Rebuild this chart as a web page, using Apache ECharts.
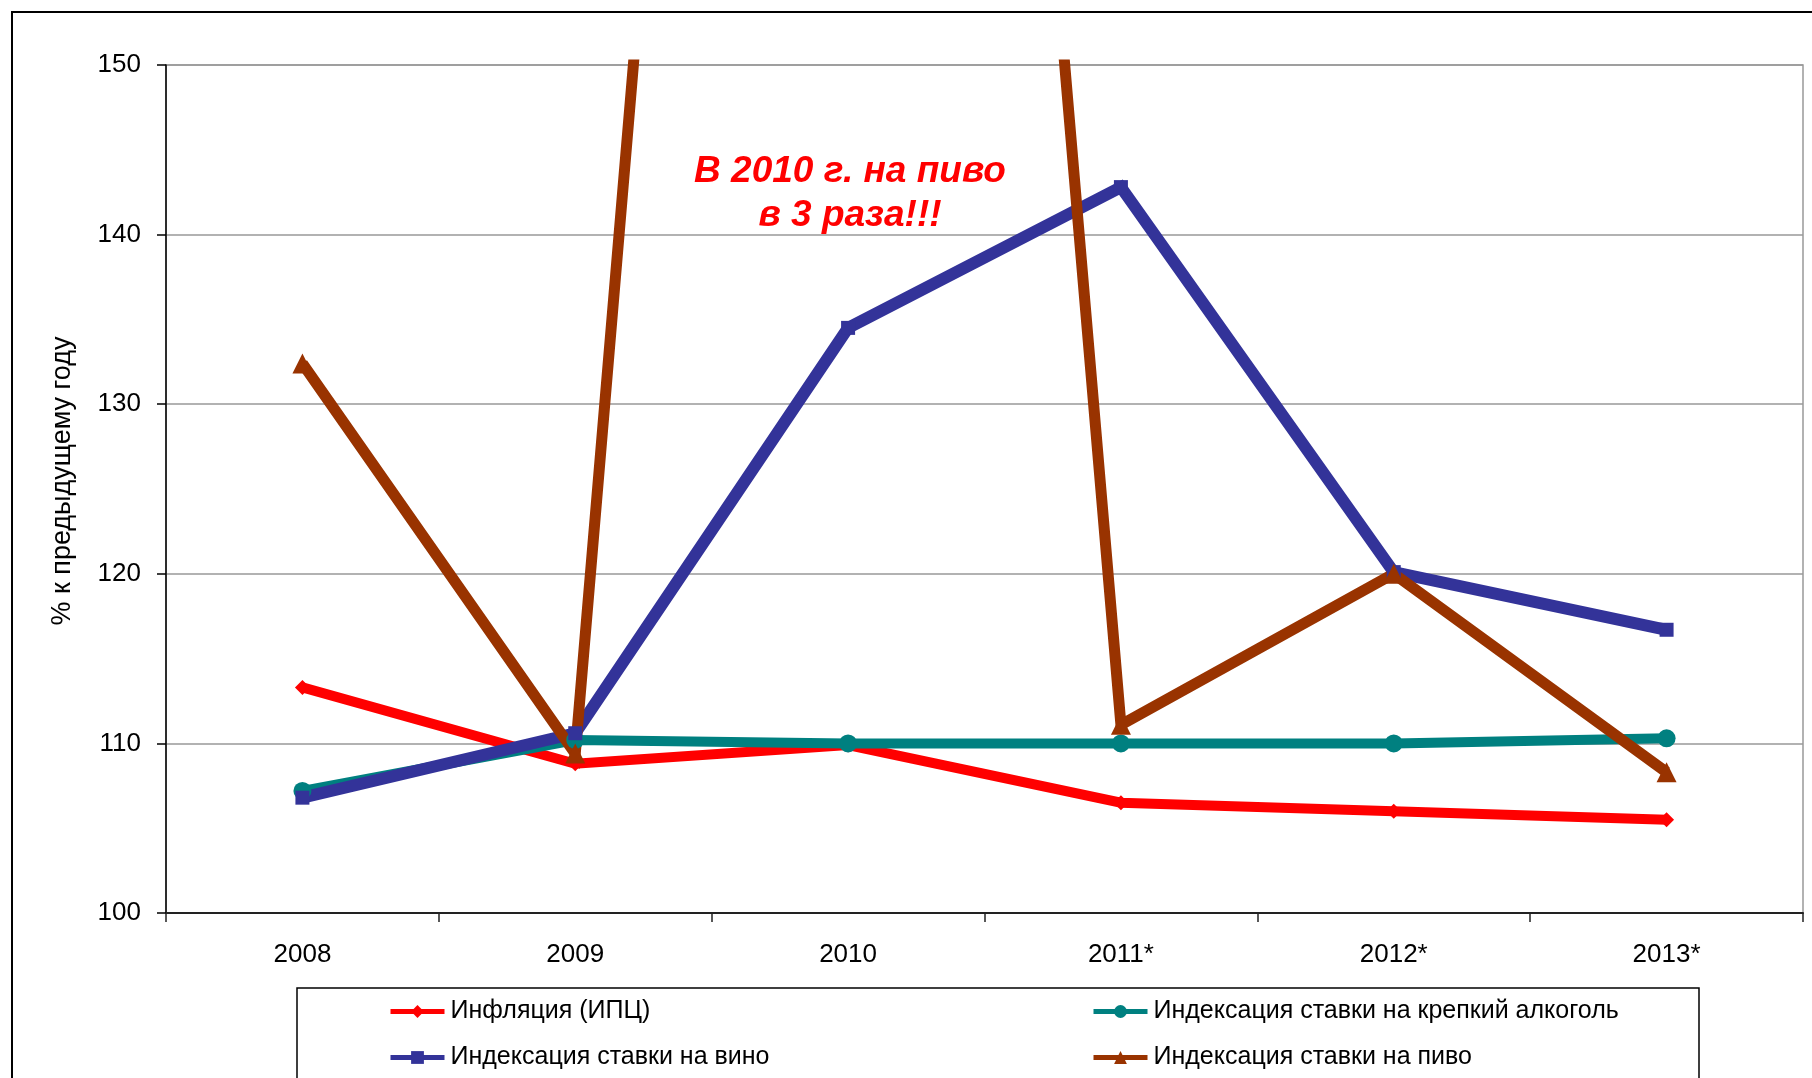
<!DOCTYPE html>
<html>
<head>
<meta charset="utf-8">
<script src="https://cdn.jsdelivr.net/npm/echarts@6/dist/echarts.min.js"></script>
<style>
  html, body { margin: 0; padding: 0; background: #fff; }
  #chartId { width: 1812px; height: 1078px; }
</style>
</head>
<body>
<div id="chartId"></div>
<script>
// годы (звёздочка — прогноз)
const categories = ['2008', '2009', '2010', '2011*', '2012*', '2013*'];
// % к предыдущему году
const inflation = [113.3, 108.8, 109.9, 106.5, 106.0, 105.5]; // ИПЦ
const strongAlcohol = [107.2, 110.2, 110.0, 110.0, 110.0, 110.3]; // крепкий алкоголь
const wine = [106.8, 110.6, 134.5, 142.8, 120.1, 116.7]; // вино
const beer = [132.4, 109.4, 300, 111.1, 120.0, 108.3]; // пиво, в 2010 — в 3 раза
const seriesNames = [
  'Инфляция (ИПЦ)',
  'Индексация ставки на крепкий алкоголь',
  'Индексация ставки на вино',
  'Индексация ставки на пиво',
];
const yMin = 100;
const yMax = 150;
const yStep = 10;

const FONT = '"Liberation Sans", Arial, sans-serif';

const legendItem = (name, left, top) => ({
  data: [name],
  left,
  top,
  padding: 0,
  itemWidth: 54,
  itemHeight: 16,
  lineStyle: { width: 5 },
  textStyle: { fontSize: 25, color: '#000', fontFamily: FONT, padding: [0, 0, 0, 1] },
});

const lineSeries = (name, data, color, symbol, symbolSize, width) => ({
  name,
  type: 'line',
  data,
  symbol,
  symbolSize,
  clip: true,
  lineStyle: { color, width, join: 'miter' },
  itemStyle: { color },
});

const chart = echarts.init(document.getElementById('chartId'));
chart.setOption({
  animation: false,
  backgroundColor: '#fff',
  textStyle: { fontFamily: FONT },
  grid: {
    left: 166,
    right: 9,
    top: 65,
    bottom: 165,
    show: true,
    borderColor: '#999',
    borderWidth: 1.5,
  },
  legend: [
    legendItem(seriesNames[0], 388, 999),
    legendItem(seriesNames[1], 1091, 999),
    legendItem(seriesNames[2], 388, 1045),
    legendItem(seriesNames[3], 1091, 1045),
  ],
  xAxis: {
    type: 'category',
    data: categories,
    boundaryGap: true,
    axisLine: { lineStyle: { color: '#222', width: 2 } },
    axisTick: { show: true, length: 9, lineStyle: { color: '#222', width: 1.5 } },
    axisLabel: { fontSize: 26, color: '#000', margin: 29 },
  },
  yAxis: {
    type: 'value',
    min: yMin,
    max: yMax,
    interval: yStep,
    name: '% к предыдущему году',
    nameLocation: 'middle',
    nameRotate: 90,
    nameGap: 90,
    nameTextStyle: { fontSize: 27, color: '#000', padding: [0, 0, 0, 16] },
    axisLine: { show: true, lineStyle: { color: '#000', width: 1.5 } },
    axisTick: { show: true, length: 9, lineStyle: { color: '#000', width: 1.5 } },
    axisLabel: { fontSize: 26, color: '#000', margin: 25 },
    splitLine: { lineStyle: { color: '#999', width: 1.5 } },
  },
  series: [
    lineSeries(seriesNames[0], inflation, '#FF0000', 'diamond', 15, 10),
    lineSeries(seriesNames[1], strongAlcohol, '#008080', 'circle', 18, 10),
    lineSeries(seriesNames[2], wine, '#333399', 'rect', 14, 12),
    lineSeries(seriesNames[3], beer, '#993300', 'triangle', 20, 11),
  ],
  graphic: [
    {
      type: 'rect',
      silent: true,
      shape: { x: 12, y: 12, width: 1900, height: 1200 },
      style: { fill: 'none', stroke: '#000', lineWidth: 2 },
    },
    {
      type: 'rect',
      silent: true,
      shape: { x: 297, y: 988, width: 1402, height: 200 },
      style: { fill: 'none', stroke: '#000', lineWidth: 1.5 },
    },
    {
      type: 'text',
      silent: true,
      x: 850,
      y: 172,
      style: {
        text: 'В 2010 г. на пиво',
        fill: '#FF0000',
        font: 'italic bold 37px ' + FONT,
        textAlign: 'center',
        textVerticalAlign: 'middle',
      },
    },
    {
      type: 'text',
      silent: true,
      x: 850,
      y: 216,
      style: {
        text: 'в 3 раза!!!',
        fill: '#FF0000',
        font: 'italic bold 37px ' + FONT,
        textAlign: 'center',
        textVerticalAlign: 'middle',
      },
    },
  ],
});
</script>
</body>
</html>
